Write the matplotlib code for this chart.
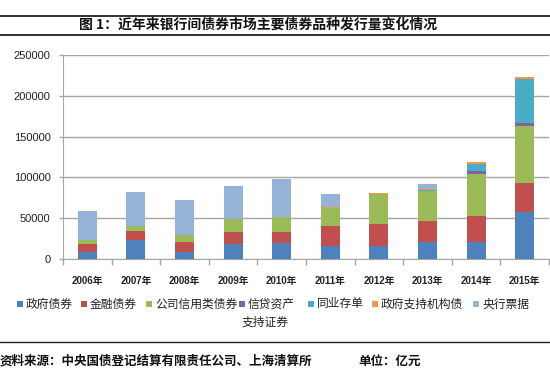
import matplotlib
matplotlib.use("Agg")
import matplotlib.pyplot as plt
from matplotlib.patches import Rectangle
from matplotlib.lines import Line2D
import numpy as np

years = ["2006年", "2007年", "2008年", "2009年", "2010年", "2011年", "2012年", "2013年", "2014年", "2015年"]
series_names = ["政府债券", "金融债券", "公司信用类债券", "信贷资产\n支持证券", "同业存单", "政府支持机构债", "央行票据"]
gov    = [8200, 23500, 8200, 18300, 19500, 16000, 15500, 20700, 20700, 57700]
fin    = [10100, 11400, 12500, 15400, 14200, 24600, 27000, 25700, 32200, 35000]
corp   = [4400, 6100, 8900, 15500, 17900, 22400, 37500, 37200, 51600, 70900]
abs_   = [0, 0, 0, 0, 0, 0, 200, 200, 2800, 3500]
ncd    = [0, 0, 0, 0, 0, 0, 0, 300, 9700, 52900]
agency = [0, 0, 0, 0, 0, 800, 1000, 1400, 1700, 2700]
cbb    = [36600, 40700, 43100, 39800, 46400, 15500, 0, 5800, 0, 0]
yticks = [0, 50000, 100000, 150000, 200000, 250000]

colors = ["#4F81BD", "#C0504D", "#9BBB59", "#8064A2", "#4BACC6", "#F79646", "#95B3D7"]
data = [gov, fin, corp, abs_, ncd, agency, cbb]

W, H = 550, 386
fig = plt.figure(figsize=(W/100, H/100), dpi=100)
cjk = ["Noto Sans CJK SC", "DejaVu Sans"]

ax = fig.add_axes([63/W, 1-259/H, 486/W, 204/H])
x = np.arange(len(years))
bottom = np.zeros(len(years))
for vals, c in zip(data, colors):
    v = np.array(vals, dtype=float)
    ax.bar(x, v, width=0.39, bottom=bottom, color=c, linewidth=0, zorder=3)
    bottom += v

ax.set_xlim(-0.5, len(years)-0.5)
ax.set_ylim(0, 250000)
ax.set_yticks(yticks)
ax.set_yticklabels([str(t) for t in yticks], fontsize=8, family=["Liberation Sans"], color="#222222")
ax.yaxis.grid(True, color="#A6A6A6", linewidth=1, zorder=0)
ax.set_xticks(x)
ax.set_xticklabels(years, fontsize=7, fontweight="bold", family=["Liberation Sans", "Noto Sans CJK SC"], color="#222222")
ax.set_xticks(np.arange(-0.5, len(years)), minor=True)
ax.tick_params(axis="x", which="major", length=0, pad=12)
ax.tick_params(axis="x", which="minor", length=4, color="#A6A6A6", width=1)
ax.tick_params(axis="y", length=3, color="#A6A6A6", width=1, pad=6)
for s in ["top", "right"]:
    ax.spines[s].set_visible(False)
ax.spines["left"].set_color("#A6A6A6")
ax.spines["bottom"].set_color("#A6A6A6")

# title box lines
fig.add_artist(Line2D([0, 1], [1-15.5/H, 1-15.5/H], color="#222222", linewidth=1.3))
fig.add_artist(Line2D([0, 1], [1-34.5/H, 1-34.5/H], color="#222222", linewidth=1.3))
fig.text(258/W, 1-25/H, "图 1：近年来银行间债券市场主要债券品种发行量变化情况", ha="center", va="center",
         fontsize=10, fontweight="bold", family=cjk, color="#111111")

# legend (manual)
leg_x = [17, 81, 146, 239, 308, 372, 473]
ly = 304
sq = 6
for lx, name, c in zip(leg_x, series_names, colors):
    fig.add_artist(Rectangle((lx/W, 1-(ly+sq/2)/H), sq/W, sq/H, facecolor=c, edgecolor="none"))
    if "\n" in name:
        a, b = name.split("\n")
        fig.text((lx+9)/W, 1-ly/H, a, ha="left", va="center", fontsize=8.5, family=cjk, color="#222222")
        fig.text((lx+26)/W, 1-322/H, b, ha="center", va="center", fontsize=8.5, family=cjk, color="#222222")
    else:
        fig.text((lx+9)/W, 1-ly/H, name, ha="left", va="center", fontsize=8.5, family=cjk, color="#222222")

fig.add_artist(Line2D([0, 1], [1-342/H, 1-342/H], color="#222222", linewidth=1.0))
fig.text(0/W, 1-361/H, "资料来源：中央国债登记结算有限责任公司、上海清算所", ha="left", va="center",
         fontsize=9, fontweight="bold", family=cjk, color="#111111")
fig.text(358/W, 1-361/H, "单位：亿元", ha="left", va="center",
         fontsize=9, fontweight="bold", family=cjk, color="#111111")

fig.savefig("out.png", dpi=100)
